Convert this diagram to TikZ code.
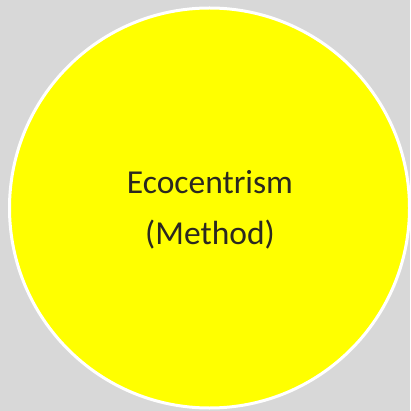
\documentclass[tikz,border=0pt]{standalone}
\usepackage{fontspec}
\setmainfont{Carlito}
\definecolor{bggrey}{HTML}{D8D8D8}
\definecolor{circyellow}{HTML}{FFFF00}
\definecolor{txtdark}{HTML}{2B2820}
\tikzset{
  bubble/.style={circle, fill=circyellow, draw=white, line width=3pt, minimum size=400pt, inner sep=0pt},
  label1/.style={anchor=base, text=txtdark, font=\fontsize{33.5}{40}\selectfont, inner sep=0pt}
}
\begin{document}
\begin{tikzpicture}[x=1pt,y=-1pt]
  \fill[bggrey] (0,0) rectangle (410,411);
  \useasboundingbox (0,0) rectangle (410,411);
  \node[bubble] (c) at (209.5,208) {};
  \node[label1] (t1) at (210,194) {Ecocentrism};
  \node[label1] (t2) at (210,244) {(Method)};
\end{tikzpicture}
\end{document}
